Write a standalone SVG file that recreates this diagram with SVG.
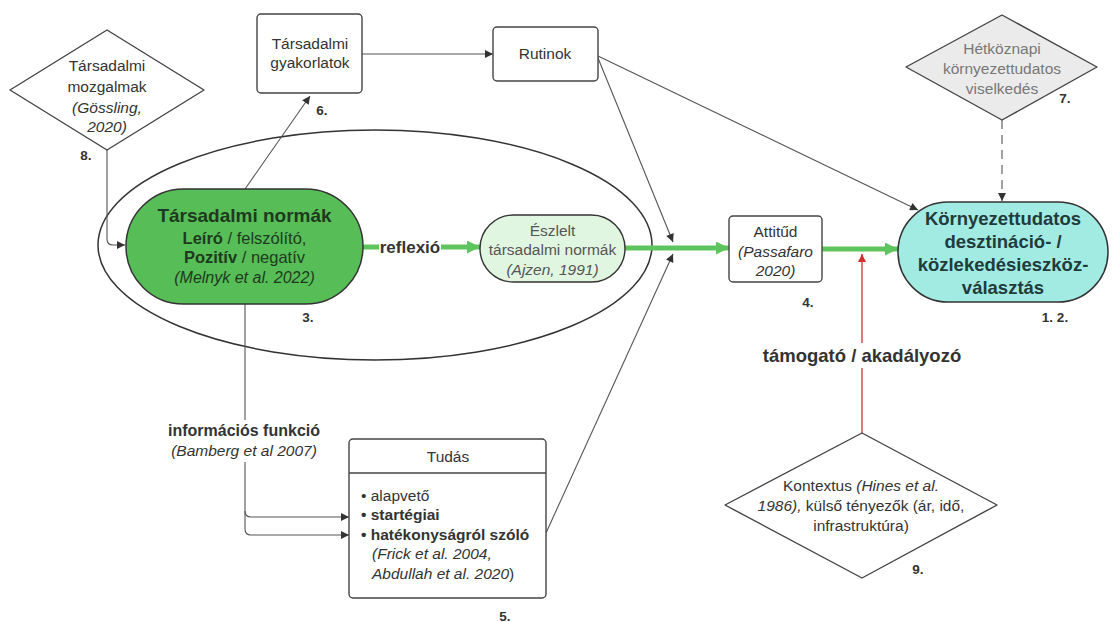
<svg xmlns="http://www.w3.org/2000/svg" width="1114" height="622" viewBox="0 0 1114 622">
<defs>
<style>
text{font-family:"Liberation Sans",Arial,sans-serif;fill:#333;}
.r{font-size:15.5px;text-anchor:middle;}
.b{font-weight:bold;}
.i{font-style:italic;}
.num{font-size:13.5px;font-weight:bold;text-anchor:middle;fill:#333;}
.ln{fill:none;stroke:#555;stroke-width:1.1;}
.gl{fill:none;stroke:#5ec45e;stroke-width:5;}
.box{fill:#fff;stroke:#444;stroke-width:1.4;}
</style>
<marker id="ah" viewBox="0 0 10 10" refX="10" refY="5" markerWidth="11" markerHeight="8" markerUnits="userSpaceOnUse" orient="auto"><path d="M0,0 L10,5 L0,10 z" fill="#333"/></marker>
<marker id="gh" viewBox="0 0 10 10" refX="10" refY="5" markerWidth="17" markerHeight="13" markerUnits="userSpaceOnUse" orient="auto"><path d="M0,0 L10,5 L0,10 z" fill="#5ec45e"/></marker>
<marker id="rh" viewBox="0 0 10 10" refX="10" refY="5" markerWidth="11" markerHeight="8" markerUnits="userSpaceOnUse" orient="auto"><path d="M0,0 L10,5 L0,10 z" fill="#d03030"/></marker>
</defs>
<rect width="1114" height="622" fill="#fff"/>

<g id="ellipse-group">
<ellipse cx="375" cy="245" rx="277" ry="115" fill="none" stroke="#333" stroke-width="1.5"/>
</g>

<g id="connectors">
<path class="ln" d="M107,150 V239 Q107,245 113,245 H125" marker-end="url(#ah)"/>
<path class="ln" d="M245,189 L310,96" marker-end="url(#ah)"/>
<path class="ln" d="M362,54 H493" marker-end="url(#ah)"/>
<path class="ln" d="M598,56 L918,210" marker-end="url(#ah)"/>
<path class="ln" d="M598,58 L673,242" marker-end="url(#ah)"/>
<path class="ln" d="M546,533 L673,254" marker-end="url(#ah)"/>
<path class="ln" d="M245,304 V511 Q245,517 251,517 H349" marker-end="url(#ah)"/>
<path class="ln" d="M245,511 V529 Q245,535 251,535 H349" marker-end="url(#ah)"/>
<path class="gl" d="M363,247 H379"/>
<path class="gl" d="M441,247 H480" marker-end="url(#gh)"/>
<path class="gl" d="M625,248 H729" marker-end="url(#gh)"/>
<path class="gl" d="M822,249 H898" marker-end="url(#gh)"/>
<path d="M862,433 V368" fill="none" stroke="#d03030" stroke-width="1.3"/>
<path d="M862,343 V254" fill="none" stroke="#d03030" stroke-width="1.3" marker-end="url(#rh)"/>
<path d="M1002,120 V201" fill="none" stroke="#555" stroke-width="1.1" stroke-dasharray="9,6" marker-end="url(#ah)"/>
<rect x="166" y="420" width="158" height="42" fill="#fff"/>
<text x="244" y="436" style="font-size:16px;text-anchor:middle;font-weight:bold">információs funkció</text>
<text x="244" y="456" class="r i">(Bamberg et al 2007)</text>
<text x="410" y="253" style="font-size:17px;text-anchor:middle;font-weight:bold">reflexió</text>
<text x="862" y="362" style="font-size:18.5px;text-anchor:middle;font-weight:bold">támogató / akadályozó</text>
</g>

<g id="tarsadalmi-mozgalmak">
<polygon points="107,30 204,90 107,150 10,90" fill="#fff" stroke="#444" stroke-width="1.4" stroke-linejoin="round"/>
<text class="r" x="107" y="71">Társadalmi</text>
<text class="r" x="107" y="92">mozgalmak</text>
<text class="r i" x="107" y="113">(Gössling,</text>
<text class="r i" x="107" y="132">2020)</text>
<text class="num" x="86" y="160">8.</text>
</g>

<g id="tarsadalmi-gyakorlatok">
<rect class="box" x="257" y="14" width="105" height="79" rx="4"/>
<text class="r" x="310" y="49">Társadalmi</text>
<text class="r" x="310" y="68">gyakorlatok</text>
<text class="num" x="322" y="115">6.</text>
</g>

<g id="rutinok">
<rect class="box" x="493" y="27" width="105" height="54" rx="4"/>
<text class="r" x="545" y="59">Rutinok</text>
</g>

<g id="hetkoznapi">
<polygon points="1002,15 1097,67 1002,120 906,67" fill="#ebebeb" stroke="#444" stroke-width="1.4" stroke-linejoin="round"/>
<text class="r" x="1002" y="54" style="fill:#777">Hétköznapi</text>
<text class="r" x="1002" y="74" style="fill:#777">környezettudatos</text>
<text class="r" x="1002" y="94" style="fill:#777">viselkedés</text>
<text class="num" x="1065" y="103">7.</text>
</g>

<g id="tarsadalmi-normak">
<rect x="126" y="189" width="237" height="115" rx="57.5" fill="#57bd57" stroke="#333" stroke-width="1.5"/>
<text x="244.5" y="222" style="font-size:19px;font-weight:bold;text-anchor:middle;fill:#1e3a1e">Társadalmi normák</text>
<text x="244.5" y="244" style="font-size:16.5px;text-anchor:middle;fill:#1e3a1e"><tspan font-weight="bold">Leíró</tspan> / felszólító,</text>
<text x="244.5" y="263" style="font-size:16.5px;text-anchor:middle;fill:#1e3a1e"><tspan font-weight="bold">Pozitív</tspan> / negatív</text>
<text x="244.5" y="283" style="font-size:16px;text-anchor:middle;font-style:italic;fill:#1e3a1e">(Melnyk et al. 2022)</text>
<text class="num" x="308" y="322">3.</text>
</g>

<g id="eszlelt">
<rect x="480" y="215" width="145" height="67" rx="33.5" fill="#e1f6e1" stroke="#333" stroke-width="1.4"/>
<text class="r" x="552.5" y="236" style="fill:#555">Észlelt</text>
<text class="r" x="552.5" y="255" style="fill:#555">társadalmi normák</text>
<text class="r i" x="552.5" y="275" style="fill:#555">(Ajzen, 1991)</text>
</g>

<g id="attitud">
<rect class="box" x="729" y="216" width="93" height="66" rx="4"/>
<text class="r" x="775.5" y="237">Attitűd</text>
<text class="r i" x="775.5" y="257">(Passafaro</text>
<text class="r i" x="775.5" y="276">2020)</text>
<text class="num" x="808" y="307">4.</text>
</g>

<g id="kornyezettudatos">
<rect x="898" y="202" width="210" height="100" rx="50" fill="#a2ebe3" stroke="#333" stroke-width="1.5"/>
<text x="1003" y="225" style="font-size:18.5px;font-weight:bold;text-anchor:middle;fill:#1f3b3b">Környezettudatos</text>
<text x="1003" y="248" style="font-size:18.5px;font-weight:bold;text-anchor:middle;fill:#1f3b3b">desztináció- /</text>
<text x="1003" y="271" style="font-size:18.5px;font-weight:bold;text-anchor:middle;fill:#1f3b3b">közlekedésieszköz-</text>
<text x="1003" y="294" style="font-size:18.5px;font-weight:bold;text-anchor:middle;fill:#1f3b3b">választás</text>
<text class="num" x="1055" y="322">1. 2.</text>
</g>

<g id="tudas">
<rect class="box" x="349" y="439" width="197" height="159" rx="4"/>
<line x1="349" y1="473" x2="546" y2="473" stroke="#444" stroke-width="1.4"/>
<text class="r" x="448" y="462">Tudás</text>
<text x="361" y="501" style="font-size:15.5px">• alapvető</text>
<text x="361" y="520" style="font-size:15.5px;font-weight:bold">• startégiai</text>
<text x="361" y="540" style="font-size:15.5px;font-weight:bold">• hatékonyságról szóló</text>
<text x="372" y="559" style="font-size:15.5px;font-style:italic">(Frick et al. 2004,</text>
<text x="372" y="579" style="font-size:15.5px"><tspan font-style="italic">Abdullah et al. 2020</tspan>)</text>
<text class="num" x="505" y="621">5.</text>
</g>

<g id="kontextus">
<polygon points="862,433 997,505 862,578 725,505" fill="#fff" stroke="#444" stroke-width="1.4" stroke-linejoin="round"/>
<text class="r" x="861" y="491">Kontextus <tspan font-style="italic">(Hines et al.</tspan></text>
<text class="r" x="861" y="511"><tspan font-style="italic">1986),</tspan> külső tényezők (ár, idő,</text>
<text class="r" x="861" y="531">infrastruktúra)</text>
<text class="num" x="918" y="574">9.</text>
</g>
</svg>
